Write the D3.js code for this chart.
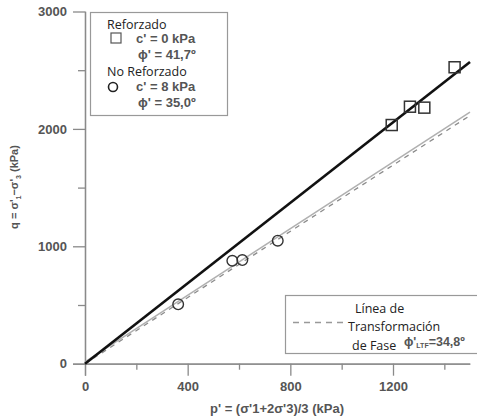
<!DOCTYPE html>
<meta charset="utf-8">
<style>
  body { margin: 0; background: #fff; }
  svg { display: block; }
  .axis path, .axis line { stroke: #8a8a8a; stroke-width: 1.3; }
  .axis text { font-family: "Liberation Sans", Arial, sans-serif; font-size: 13px; font-weight: bold; fill: #555; }
  .leg { font-family: "Open Sans", "Liberation Sans", sans-serif; font-size: 12.5px; fill: #222; }
  .legb { font-family: "Liberation Sans", Arial, sans-serif; font-size: 13px; font-weight: bold; fill: #555; }
</style>
<body>
<div id="graph"></div>
<script src="https://d3js.org/d3.v7.min.js"></script>
<script>
  // ensayos reforzados (cuadrados)
  var reforzadoP = [1195, 1266, 1322, 1440];
  var reforzadoQ = [2033, 2189, 2181, 2525];
  // ensayos no reforzados (circulos)
  var noReforzadoP = [363, 574, 613, 751];
  var noReforzadoQ = [506, 877, 883, 1048];
  // envolventes: [p, q] en los extremos
  var lineaReforzado = [[0, 0], [1500, 2570]];
  var lineaNoReforzado = [[0, 16], [1500, 2143]];
  var lineaLTF = [[0, 0], [1500, 2114]];

  var xMajor = [0, 400, 800, 1200],
    xMinor = [200, 600, 1000, 1400],
    yMajor = [0, 1000, 2000, 3000],
    yMinor = [500, 1500, 2500];

  var width = 477, height = 420;

  var svg = d3.select("#graph").append("svg")
    .attr("width", width)
    .attr("height", height);

  var x = d3.scaleLinear().domain([0, 1500]).range([85, 470]);
  var y = d3.scaleLinear().domain([0, 3000]).range([363.7, 11.5]);

  // ejes
  svg.append("g")
    .attr("class", "axis")
    .attr("transform", "translate(0," + y(0) + ")")
    .call(d3.axisBottom(x).tickValues(xMinor).tickSize(6).tickFormat("").tickSizeOuter(0));
  svg.append("g")
    .attr("class", "axis")
    .attr("transform", "translate(0," + y(0) + ")")
    .call(d3.axisBottom(x).tickValues(xMajor).tickSize(12).tickPadding(6)
      .tickFormat(d3.format("d")).tickSizeOuter(0))
    .select(".domain").attr("d", "M73,0.5H470");

  svg.append("g")
    .attr("class", "axis")
    .attr("transform", "translate(" + x(0) + ",0)")
    .call(d3.axisLeft(y).tickValues(yMinor).tickSize(7).tickFormat("").tickSizeOuter(0));
  svg.append("g")
    .attr("class", "axis")
    .attr("transform", "translate(" + x(0) + ",0)")
    .call(d3.axisLeft(y).tickValues(yMajor).tickSize(12).tickPadding(6)
      .tickFormat(d3.format("d")).tickSizeOuter(0))
    .select(".domain").attr("d", "M0.5," + (y(0) + 12) + "V" + y(3000));

  // titulos de ejes
  svg.append("text")
    .attr("x", 277).attr("y", 413)
    .attr("text-anchor", "middle")
    .attr("class", "legb")
    .text("p' = (σ'1+2σ'3)/3 (kPa)");

  var yt = svg.append("text")
    .attr("transform", "translate(18,187) rotate(-90)")
    .attr("text-anchor", "middle")
    .attr("class", "legb")
    .style("font-size", "11px");
  yt.append("tspan").text("q = σ'");
  yt.append("tspan").attr("dy", 3).style("font-size", "7px").text("1");
  yt.append("tspan").attr("dy", -3).text("−σ'");
  yt.append("tspan").attr("dy", 3).style("font-size", "7px").text("3");
  yt.append("tspan").attr("dy", -3).text(" (kPa)");

  var line = d3.line()
    .x(function(d) { return x(d[0]); })
    .y(function(d) { return y(d[1]); });

  svg.append("path").datum(lineaNoReforzado)
    .attr("d", line).attr("fill", "none")
    .attr("stroke", "#b0b0b0").attr("stroke-width", 1.5);
  svg.append("path").datum(lineaLTF)
    .attr("d", line).attr("fill", "none")
    .attr("stroke", "#8c8c8c").attr("stroke-width", 1.3)
    .attr("stroke-dasharray", "5,5");
  svg.append("path").datum(lineaReforzado)
    .attr("d", line).attr("fill", "none")
    .attr("stroke", "#111").attr("stroke-width", 2.6);

  // puntos
  svg.selectAll(".sq")
    .data(d3.range(reforzadoP.length))
    .enter().append("rect")
    .attr("class", "sq")
    .attr("x", function(i) { return x(reforzadoP[i]) - 5.5; })
    .attr("y", function(i) { return y(reforzadoQ[i]) - 5.5; })
    .attr("width", 11).attr("height", 11)
    .attr("fill", "none").attr("stroke", "#333").attr("stroke-width", 1.5);

  svg.selectAll(".ci")
    .data(d3.range(noReforzadoP.length))
    .enter().append("circle")
    .attr("class", "ci")
    .attr("cx", function(i) { return x(noReforzadoP[i]); })
    .attr("cy", function(i) { return y(noReforzadoQ[i]); })
    .attr("r", 5.3)
    .attr("fill", "none").attr("stroke", "#333").attr("stroke-width", 1.4);

  // leyenda 1
  svg.append("rect")
    .attr("x", 90.5).attr("y", 12.5).attr("width", 137).attr("height", 103)
    .attr("fill", "#fff").attr("stroke", "#999").attr("stroke-width", 1.2);
  svg.append("text").attr("class", "leg").attr("x", 107).attr("y", 29).text("Reforzado");
  svg.append("rect").attr("x", 111).attr("y", 33).attr("width", 10).attr("height", 10)
    .attr("fill", "none").attr("stroke", "#555").attr("stroke-width", 1.2);
  svg.append("text").attr("class", "legb").attr("x", 136).attr("y", 43).text("c' = 0 kPa");
  svg.append("text").attr("class", "legb").attr("x", 138).attr("y", 59).text("ϕ' = 41,7º");
  svg.append("text").attr("class", "leg").attr("x", 107).attr("y", 76).text("No Reforzado");
  svg.append("circle").attr("cx", 113).attr("cy", 87).attr("r", 4.5)
    .attr("fill", "none").attr("stroke", "#222").attr("stroke-width", 1.6);
  svg.append("text").attr("class", "legb").attr("x", 136).attr("y", 91).text("c' = 8 kPa");
  svg.append("text").attr("class", "legb").attr("x", 138).attr("y", 107).text("ϕ' = 35,0º");

  // leyenda 2
  svg.append("rect")
    .attr("x", 285.5).attr("y", 295.5).attr("width", 200).attr("height", 58)
    .attr("fill", "#fff").attr("stroke", "#999").attr("stroke-width", 1.2);
  svg.append("line").attr("x1", 293).attr("x2", 348).attr("y1", 322.5).attr("y2", 322.5)
    .attr("stroke", "#999").attr("stroke-width", 1.3).attr("stroke-dasharray", "6,5");
  svg.append("text").attr("class", "leg").attr("x", 355).attr("y", 313).text("Línea de");
  svg.append("text").attr("class", "leg").attr("x", 348).attr("y", 331).text("Transformación");
  svg.append("text").attr("class", "leg").attr("x", 352).attr("y", 350).text("de Fase");
  var ltf = svg.append("text").attr("class", "legb").attr("x", 404).attr("y", 346)
    .style("font-size", "12.5px");
  ltf.append("tspan").text("ϕ'");
  ltf.append("tspan").attr("dy", 2).style("font-size", "7px").text("LTF");
  ltf.append("tspan").attr("dy", -2).text("=34,8º");
</script>
</body>
